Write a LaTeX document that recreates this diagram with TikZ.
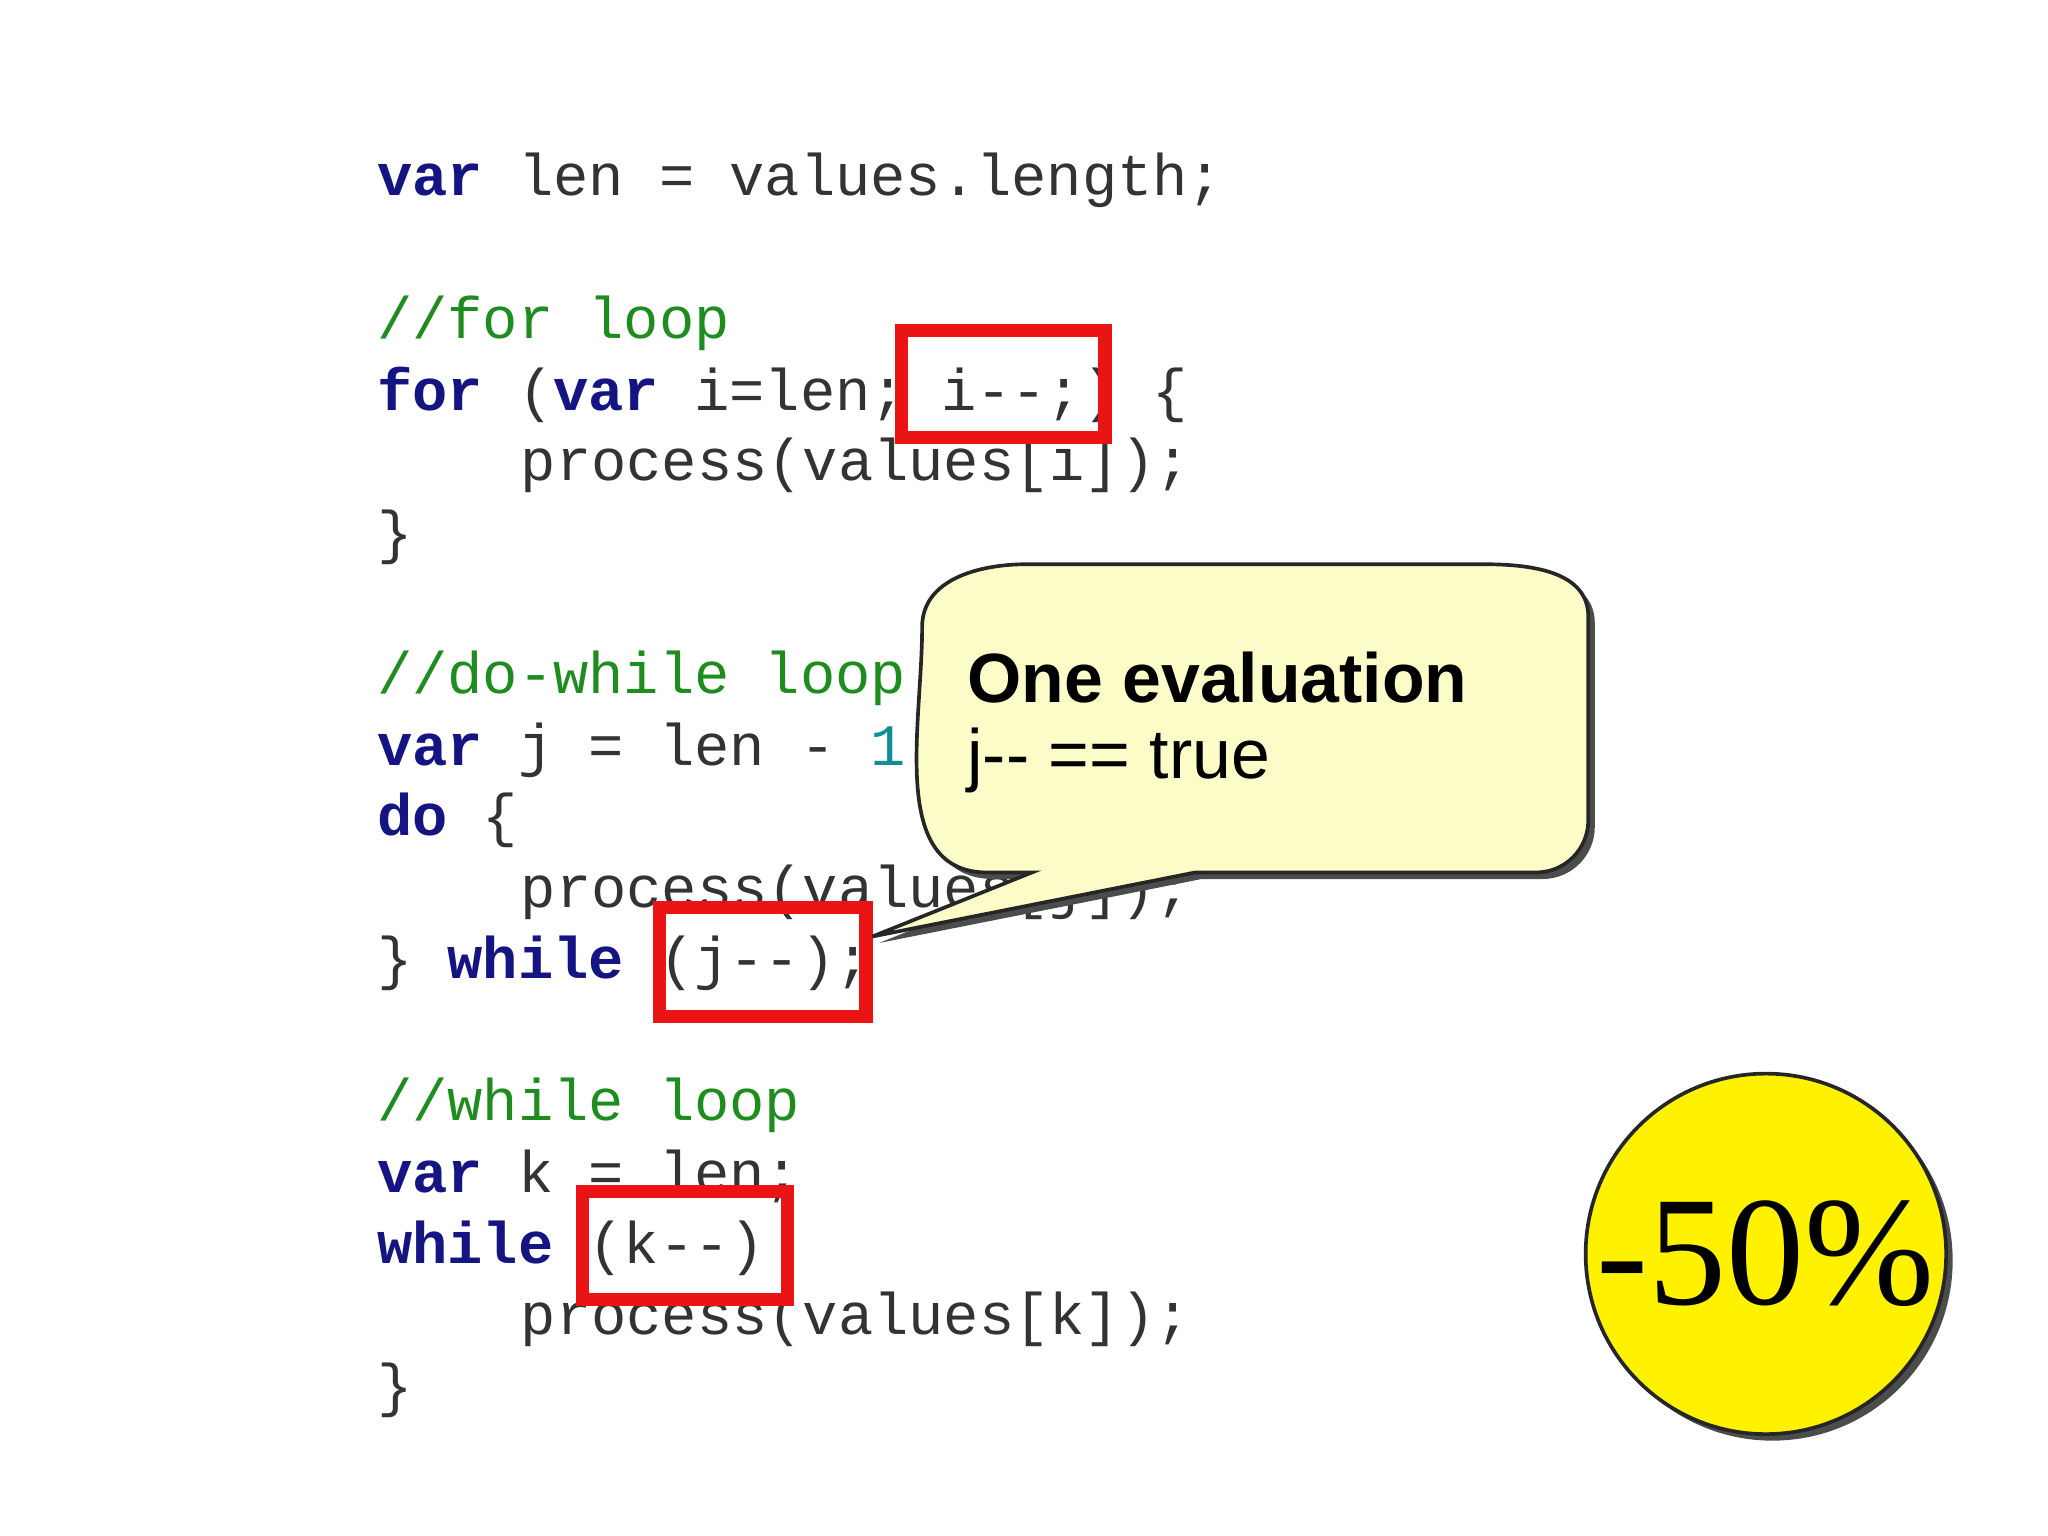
\documentclass[tikz,border=0pt]{standalone}
\usepackage{fontspec}
\setmainfont{Liberation Serif}
\setsansfont{Liberation Sans}
\setmonofont{Liberation Mono}
\usepackage{xcolor}
\usetikzlibrary{positioning}
\definecolor{kwblue}{RGB}{20,20,130}
\definecolor{cmgreen}{RGB}{30,140,30}
\definecolor{numteal}{RGB}{20,140,150}
\definecolor{boxred}{RGB}{235,20,20}
\definecolor{notefill}{RGB}{252,252,200}
\newcommand{\kw}[1]{\textcolor{kwblue}{\textbf{#1}}}
\newcommand{\cm}[1]{\textcolor{cmgreen}{#1}}
\tikzset{
  code/.style={anchor=base west, inner sep=0pt, font=\fontsize{12.8}{14}\ttfamily, text=black!80},
  hilite/.style={draw=boxred, line width=0.1cm},
}
\begin{document}
\begin{tikzpicture}[y=-1cm]
  \useasboundingbox (0,0) rectangle (15.68,11.76);
  % code lines
  \node[code] (l0)  at (2.88,1.50) {\kw{var} len = values.length;};
  \node[code] (l2)  at (2.88,2.59) {\cm{//for loop}};
  \node[code] (l3)  at (2.88,3.14) {\kw{for} (\kw{var} i=len; i--;) \{};
  \node[code] (l4)  at (3.98,3.68) {process(values[i]);};
  \node[code] (l5)  at (2.88,4.23) {\}};
  \node[code] (l7)  at (2.88,5.31) {\cm{//do-while loop}};
  \node[code] (l8)  at (2.88,5.86) {\kw{var} j = len - \textcolor{numteal}{1};};
  \node[code] (l9)  at (2.88,6.40) {\kw{do} \{};
  \node[code] (l10) at (3.98,6.95) {process(values[j]);};
  \node[code] (l11) at (2.88,7.49) {\} \kw{while} (j--);};
  \node[code] (l13) at (2.88,8.58) {\cm{//while loop}};
  \node[code] (l14) at (2.88,9.13) {\kw{var} k = len;};
  \node[code] (l15) at (2.88,9.67) {\kw{while} (k--)};
  \node[code] (l16) at (3.98,10.22) {process(values[k]);};
  \node[code] (l17) at (2.88,10.76) {\}};

  % red highlights
  \draw[hilite] (6.90,2.53) rectangle (8.46,3.35);
  \draw[hilite] (5.05,6.95) rectangle (6.63,7.78);
  \draw[hilite] (4.46,9.12) rectangle (6.03,9.95);

  % callout
  \begin{scope}[shift={(0.05,0.05)}]
    \fill[black!70] (7.06,4.80) to[out=-90,in=180] (7.56,6.68) -- (7.90,6.68) -- (6.68,7.17)
      -- (9.15,6.68) -- (11.76,6.68) to[out=0,in=-90] (12.16,6.28) -- (12.16,4.72)
      to[out=90,in=0] (11.36,4.32) -- (7.86,4.32) to[out=180,in=90] cycle;
  \end{scope}
  \draw[fill=notefill, draw=black!85, thick] (7.06,4.80) to[out=-90,in=180] (7.56,6.68) -- (7.90,6.68) -- (6.68,7.17)
      -- (9.15,6.68) -- (11.76,6.68) to[out=0,in=-90] (12.16,6.28) -- (12.16,4.72)
      to[out=90,in=0] (11.36,4.32) -- (7.86,4.32) to[out=180,in=90] cycle;
  \node[anchor=base west, inner sep=0pt, font=\sffamily\bfseries\fontsize{15.2}{18}\selectfont] (note1) at (7.40,5.38) {One evaluation};
  \node[anchor=base west, inner sep=0pt, font=\sffamily\fontsize{15.2}{18}\selectfont] (note2) at (7.40,5.96) {j{-}{-} == true};

  % badge
  \fill[black!70] (13.57,9.65) circle (1.38);
  \draw[black!85, thick, fill=yellow] (13.52,9.60) circle (1.38);
  \node[inner sep=0pt, font=\fontsize{34}{40}\selectfont] (badge) at (13.52,9.60) {-50\%};
\end{tikzpicture}
\end{document}
